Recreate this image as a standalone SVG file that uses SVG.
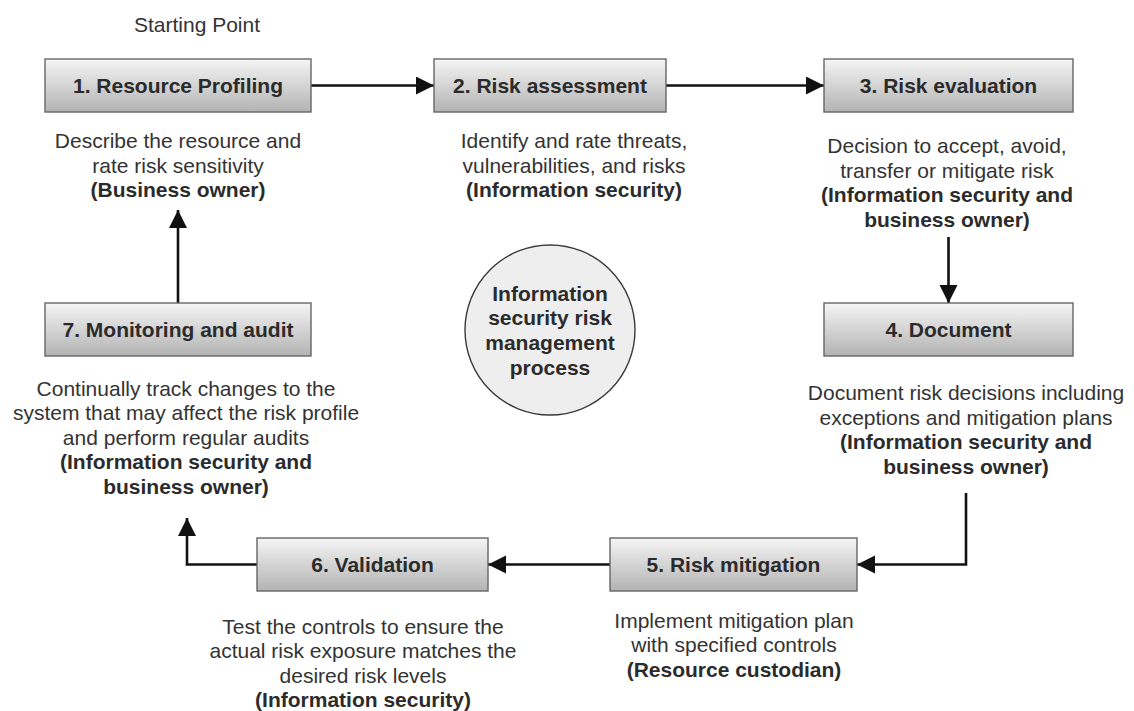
<svg xmlns="http://www.w3.org/2000/svg" width="1134" height="711" viewBox="0 0 1134 711">
  <style>
    text { font-family: "Liberation Sans", Arial, Helvetica, sans-serif; font-size: 21px; fill: #333333; text-anchor: middle; }
    .lbl { font-weight: bold; fill: #2b2b2b; }
    .b { font-weight: bold; fill: #2b2b2b; }
    .box { fill: url(#boxFill); stroke: #666666; stroke-width: 1.4; }
    .hub { fill: #eeeeee; stroke: #36393d; stroke-width: 1.4; }
    .edge { fill: none; stroke: #111111; stroke-width: 2.6; marker-end: url(#head); }
  </style>
  <defs>
    <linearGradient id="boxFill" x1="0" y1="0" x2="0" y2="1">
      <stop offset="0" stop-color="#f5f5f5"/>
      <stop offset="1" stop-color="#b3b3b3"/>
    </linearGradient>
    <!-- filled block arrowhead, tip lands exactly on the path end -->
    <marker id="head" markerUnits="userSpaceOnUse" markerWidth="19" markerHeight="19" refX="18" refY="9" orient="auto">
      <path d="M0,0 L18,9 L0,18 Z" fill="#111111"/>
    </marker>
  </defs>

  <text x="197" y="32">Starting Point</text>

  <g id="connectors">
    <path class="edge" d="M311,85.5 H434"/>
    <path class="edge" d="M666,85.5 H824"/>
    <path class="edge" d="M948.5,237 V303"/>
    <path class="edge" d="M966,493 V564.5 H857"/>
    <path class="edge" d="M610,564.5 H488"/>
    <path class="edge" d="M257,564.5 H187 V518"/>
    <path class="edge" d="M178,303 V210"/>
  </g>

  <g id="step1">
    <rect class="box" x="45" y="59" width="266" height="53"/>
    <text class="lbl" x="178" y="93">1. Resource Profiling</text>
    <text x="178" y="148">Describe the resource and</text>
    <text x="178" y="172.5">rate risk sensitivity</text>
    <text class="b" x="178" y="197">(Business owner)</text>
  </g>

  <g id="step2">
    <rect class="box" x="434" y="59" width="232" height="53"/>
    <text class="lbl" x="550" y="93">2. Risk assessment</text>
    <text x="574" y="148">Identify and rate threats,</text>
    <text x="574" y="172.5">vulnerabilities, and risks</text>
    <text class="b" x="574" y="197">(Information security)</text>
  </g>

  <g id="step3">
    <rect class="box" x="824" y="59" width="249" height="53"/>
    <text class="lbl" x="948.5" y="93">3. Risk evaluation</text>
    <text x="947" y="153">Decision to accept, avoid,</text>
    <text x="947" y="177.5">transfer or mitigate risk</text>
    <text class="b" x="947" y="202">(Information security and</text>
    <text class="b" x="947" y="226.5">business owner)</text>
  </g>

  <g id="step4">
    <rect class="box" x="824" y="303" width="249" height="53"/>
    <text class="lbl" x="948.5" y="337">4. Document</text>
    <text x="966" y="400">Document risk decisions including</text>
    <text x="966" y="424.5">exceptions and mitigation plans</text>
    <text class="b" x="966" y="449">(Information security and</text>
    <text class="b" x="966" y="473.5">business owner)</text>
  </g>

  <g id="step5">
    <rect class="box" x="610" y="538" width="247" height="53"/>
    <text class="lbl" x="733.5" y="572">5. Risk mitigation</text>
    <text x="734" y="627.5">Implement mitigation plan</text>
    <text x="734" y="652">with specified controls</text>
    <text class="b" x="734" y="676.5">(Resource custodian)</text>
  </g>

  <g id="step6">
    <rect class="box" x="257" y="538" width="231" height="53"/>
    <text class="lbl" x="372.5" y="572">6. Validation</text>
    <text x="363" y="633.5">Test the controls to ensure the</text>
    <text x="363" y="658">actual risk exposure matches the</text>
    <text x="363" y="682.5">desired risk levels</text>
    <text class="b" x="363" y="707">(Information security)</text>
  </g>

  <g id="step7">
    <rect class="box" x="45" y="303" width="266" height="53"/>
    <text class="lbl" x="178" y="337">7. Monitoring and audit</text>
    <text x="186" y="395.5">Continually track changes to the</text>
    <text x="186" y="420">system that may affect the risk profile</text>
    <text x="186" y="444.5">and perform regular audits</text>
    <text class="b" x="186" y="469">(Information security and</text>
    <text class="b" x="186" y="493.5">business owner)</text>
  </g>

  <g id="hub">
    <circle class="hub" cx="550" cy="330" r="85"/>
    <text class="b" x="550" y="300.5">Information</text>
    <text class="b" x="550" y="325">security risk</text>
    <text class="b" x="550" y="350">management</text>
    <text class="b" x="550" y="374.5">process</text>
  </g>
</svg>
